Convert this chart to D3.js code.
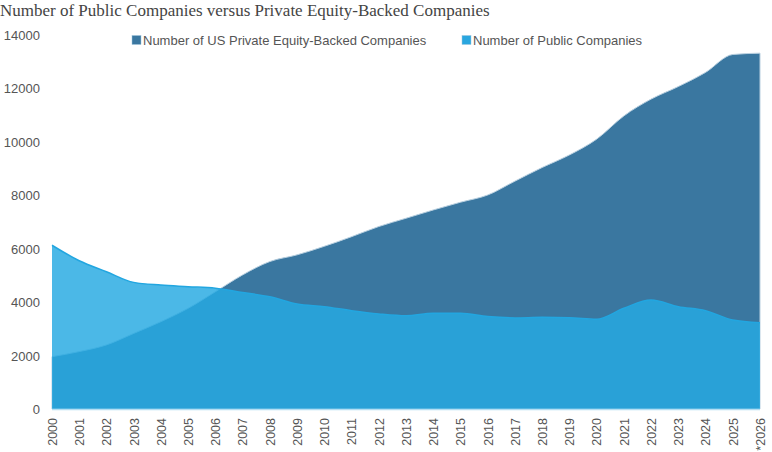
<!DOCTYPE html>
<html>
<head>
<meta charset="utf-8">
<script src="https://d3js.org/d3.v7.min.js"></script>
<style>
  body { margin: 0; background: #fff; }
  text { font-family: "Liberation Sans", Arial, sans-serif; }
</style>
</head>
<body>
<svg class="chart"></svg>
<script>

// years on the x axis, last one is an estimate
const years = d3.range(2000, 2027)
const yearLabels = years.map(y => y === 2026 ? '*2026' : String(y))

// Number of US Private Equity-Backed Companies
const peBacked = [1960, 2150, 2400, 2830, 3270, 3770, 4390, 5020, 5520, 5770,
                  6090, 6450, 6830, 7140, 7450, 7740, 8010, 8530, 9040, 9510,
                  10100, 10970, 11600, 12070, 12600, 13270, 13320]

// Number of Public Companies
const publicCos = [6130, 5550, 5140, 4740, 4640, 4580, 4520, 4360, 4200, 3930,
                   3830, 3680, 3560, 3490, 3580, 3580, 3460, 3410, 3430, 3420,
                   3360, 3770, 4080, 3830, 3680, 3330, 3230]

const yTicks = [0, 2000, 4000, 6000, 8000, 10000, 12000, 14000]

const seriesNames = ['Number of US Private Equity-Backed Companies', 'Number of Public Companies']

const width = 772
const height = 452
const margin = ({ top: 35, right: 12, bottom: 43, left: 52 })

const svg = d3.select('.chart')
    .attr('width', width)
    .attr('height', height)

const x = d3.scaleLinear()
    .domain([2000, 2026])
    .range([margin.left, width - margin.right])

const y = d3.scaleLinear()
    .domain([0, 14000])
    .range([height - margin.bottom, margin.top])

// title
svg.append('text')
    .attr('x', 0)
    .attr('y', 16)
    .style('font-family', '"Liberation Serif", "DejaVu Serif", serif')
    .style('font-size', '17px')
    .style('fill', '#444')
    .text('Number of Public Companies versus Private Equity-Backed Companies')

const areaOf = vals => d3.area()
    .x((d, i) => x(years[i]))
    .y0(y(0))
    .y1(d => y(d))
    .curve(d3.curveMonotoneX)(vals)

const lineOf = vals => d3.line()
    .x((d, i) => x(years[i]))
    .y(d => y(d))
    .curve(d3.curveMonotoneX)(vals)

// private equity area underneath
svg.append('path')
    .attr('d', areaOf(peBacked))
    .style('fill', '#3a77a0')
    .style('stroke', '#b9d0e0')
    .style('stroke-width', 1)

// public companies area on top, a bit see-through
svg.append('path')
    .attr('d', areaOf(publicCos))
    .style('fill', '#26aae2')
    .style('fill-opacity', 0.83)

svg.append('path')
    .attr('d', lineOf(publicCos))
    .style('fill', 'none')
    .style('stroke', '#22a6e0')
    .style('stroke-width', 1.5)

// baseline
svg.append('line')
    .attr('x1', x(2000))
    .attr('x2', x(2026))
    .attr('y1', y(0) + 0.5)
    .attr('y2', y(0) + 0.5)
    .style('stroke', '#b5def2')
    .style('stroke-width', 1.5)

// y axis labels (no axis line)
const yAxis = svg.append('g')
    .attr('transform', `translate(${margin.left - 12},0)`)
    .call(d3.axisLeft(y).tickValues(yTicks).tickSize(0).tickPadding(0).tickFormat(d3.format('d')))
yAxis.select('.domain').remove()
yAxis.selectAll('text')
    .style('font-size', '13px')
    .style('fill', '#555')
    .attr('dy', '0.35em')

// x axis labels, rotated
const xAxis = svg.append('g')
    .attr('transform', `translate(0,${y(0) + 9})`)
    .call(d3.axisBottom(x).tickValues(years).tickSize(0).tickFormat((d, i) => yearLabels[i]))
xAxis.select('.domain').remove()
xAxis.selectAll('text')
    .style('font-size', '12.5px')
    .style('fill', '#555')
    .attr('transform', 'rotate(-90)')
    .attr('text-anchor', 'end')
    .attr('x', 0)
    .attr('y', 0)
    .attr('dx', 0)
    .attr('dy', '0.35em')

// legend
const legendX = [132, 462]
const legendColors = ['#3a77a0', '#29a6df']
const legend = svg.append('g')
    .selectAll('g')
    .data(seriesNames)
    .join('g')
      .attr('transform', (d, i) => `translate(${legendX[i]},35)`)

legend.append('rect')
    .attr('width', 9)
    .attr('height', 9)
    .attr('y', 0.5)
    .style('fill', (d, i) => legendColors[i])
    .style('stroke', '#9fc6de')
    .style('stroke-width', 0.5)

legend.append('text')
    .attr('x', 11)
    .attr('y', 9.5)
    .style('font-size', '13px')
    .style('fill', '#555')
    .text(d => d)

</script>
</body>
</html>
